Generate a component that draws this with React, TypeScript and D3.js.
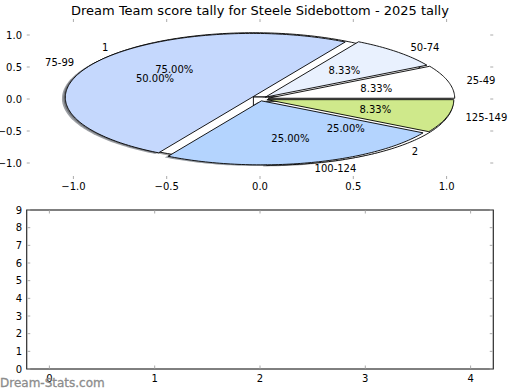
import React from 'react';
import * as d3 from 'd3';

const W = 520;
const H = 390;

const title = 'Dream Team score tally for Steele Sidebottom - 2025 tally';

// first pie: how many times each tally was scored (drawn underneath, white)
const tallyLabels = ['1', '2'];
const tallyValues = [9, 3];
const tallyColors = ['#ffffff', '#ffffff'];
const tallyExplode = [0.05, 0.05];

// second pie: score ranges
const rangeLabels = ['25-49', '50-74', '75-99', '100-124', '125-149'];
const rangeValues = [1, 1, 6, 3, 1];
const rangeColors = ['#ffffff', '#e9f1fe', '#c5d8fd', '#b4d4fe', '#cfe98b'];
const rangeExplode = [0.045, 0.04, 0.05, 0.03, 0.04];

const pieXTicks = [-1, -0.5, 0, 0.5, 1];
const pieYTicks = [-1, -0.5, 0, 0.5, 1];
const barXTicks = [0, 1, 2, 3, 4];
const barYTicks = [0, 1, 2, 3, 4, 5, 6, 7, 8, 9];

const FONT = 'DejaVu Sans, sans-serif';
const TICK = '#aaaaaa';

// axes boxes
const pieBox = { left: 26.75, right: 493.25, top: 19, bottom: 179 };
const barBox = { left: 26.75, right: 493.25, top: 210, bottom: 369 };

const px = d3.scaleLinear().domain([-1.25, 1.25]).range([pieBox.left, pieBox.right]);
const py = d3.scaleLinear().domain([-1.25, 1.25]).range([pieBox.bottom, pieBox.top]);
const bx = d3.scaleLinear().domain([-0.215, 4.215]).range([barBox.left, barBox.right]);
const by = d3.scaleLinear().domain([0, 9]).range([barBox.bottom, barBox.top]);

const line = d3.line<[number, number]>()
  .x(d => px(d[0]))
  .y(d => py(d[1]));

function wedge(cx: number, cy: number, a0: number, a1: number) {
  const n = Math.max(8, Math.ceil((a1 - a0) / 0.02));
  const pts: [number, number][] = [[cx, cy]];
  d3.range(n + 1).forEach(i => {
    const t = a0 + (a1 - a0) * i / n;
    pts.push([cx + Math.cos(t), cy + Math.sin(t)]);
  });
  return line(pts) + 'Z';
}

function buildPie(labels: string[], values: number[], colors: string[], explode: number[]) {
  const arcs = d3.pie<number>().sort(null).startAngle(0).endAngle(2 * Math.PI)(values);
  const total = d3.sum(values);
  return arcs.map((a, i) => {
    const mid = (a.startAngle + a.endAngle) / 2;
    const ox = explode[i] * Math.cos(mid);
    const oy = explode[i] * Math.sin(mid);
    const lx = ox + 1.1 * Math.cos(mid);
    const ly = oy + 1.1 * Math.sin(mid);
    return {
      label: labels[i],
      color: colors[i],
      pct: (100 * values[i] / total).toFixed(2) + '%',
      d: wedge(ox, oy, a.startAngle, a.endAngle),
      shadow: wedge(ox - 0.018, oy - 0.018, a.startAngle, a.endAngle),
      lx, ly,
      tx: ox + 0.6 * Math.cos(mid),
      ty: oy + 0.6 * Math.sin(mid),
    };
  });
}

function shade(c: string) {
  const r = d3.rgb(c);
  return d3.rgb(r.r * 0.3, r.g * 0.3, r.b * 0.3).formatHex();
}

export default function App() {
  const pie1 = buildPie(tallyLabels, tallyValues, tallyColors, tallyExplode);
  const pie2 = buildPie(rangeLabels, rangeValues, rangeColors, rangeExplode);
  const all = [...pie1, ...pie2];

  return (
    <svg width={W} height={H} style={{ position: 'absolute', left: 0, top: 0, background: '#fff' }}
      fontFamily={FONT}>
      <rect width={W} height={H} fill="#fff" />
      <text x={W / 2} y={14.5} textAnchor="middle" fontSize={13} fill="#000">{title}</text>

      {/* pie axes ticks (no frame) */}
      {pieXTicks.map(t => (
        <g key={'px' + t}>
          <line x1={px(t)} x2={px(t)} y1={pieBox.bottom} y2={pieBox.bottom - 3} stroke={TICK} />
          <line x1={px(t)} x2={px(t)} y1={pieBox.top} y2={pieBox.top + 3} stroke={TICK} />
          <text x={px(t)} y={190} textAnchor="middle" fontSize={10}>
            {t < 0 ? '\u2212' + Math.abs(t).toFixed(1) : t.toFixed(1)}
          </text>
        </g>
      ))}
      {pieYTicks.map(t => (
        <g key={'py' + t}>
          <line x1={pieBox.left} x2={pieBox.left + 3} y1={py(t)} y2={py(t)} stroke={TICK} />
          <line x1={pieBox.right} x2={pieBox.right - 3} y1={py(t)} y2={py(t)} stroke={TICK} />
          <text x={22} y={py(t)} dy="0.36em" textAnchor="end" fontSize={10}>
            {t < 0 ? '\u2212' + Math.abs(t).toFixed(1) : t.toFixed(1)}
          </text>
        </g>
      ))}

      {all.map((w, i) => (
        <path key={'s' + i} d={w.shadow} fill={shade(w.color)} fillOpacity={0.5} stroke="none" />
      ))}
      {all.map((w, i) => (
        <path key={'w' + i} d={w.d} fill={w.color} stroke="#000" strokeWidth={0.9} strokeLinejoin="round" />
      ))}
      {all.map((w, i) => (
        <g key={'t' + i} fontSize={10}>
          <text x={px(w.lx)} y={py(w.ly)} dy="0.36em" textAnchor={w.lx > 0 ? 'start' : 'end'}>{w.label}</text>
          <text x={px(w.tx)} y={py(w.ty)} dy="0.36em" textAnchor="middle">{w.pct}</text>
        </g>
      ))}

      {/* empty lower axes */}
      <rect x={barBox.left} y={barBox.top} width={barBox.right - barBox.left}
        height={barBox.bottom - barBox.top} fill="none" stroke="#000" strokeWidth={1} />
      {barXTicks.map(t => (
        <g key={'bx' + t}>
          <line x1={bx(t)} x2={bx(t)} y1={barBox.bottom - 0.5} y2={barBox.bottom - 3.5} stroke={TICK} />
          <line x1={bx(t)} x2={bx(t)} y1={barBox.top + 0.5} y2={barBox.top + 3.5} stroke={TICK} />
          <text x={bx(t)} y={382} textAnchor="middle" fontSize={10}>{t}</text>
        </g>
      ))}
      {barYTicks.map(t => (
        <g key={'by' + t}>
          <line x1={barBox.left + 0.5} x2={barBox.left + 3.5} y1={by(t)} y2={by(t)} stroke={TICK} />
          <line x1={barBox.right - 0.5} x2={barBox.right - 3.5} y1={by(t)} y2={by(t)} stroke={TICK} />
          <text x={22} y={by(t)} dy="0.36em" textAnchor="end" fontSize={10}>{t}</text>
        </g>
      ))}

      <text x={0} y={387} fontSize={12} fill="#8c8c8c" stroke="#8c8c8c" strokeWidth={0.3}>Dream-Stats.com</text>
    </svg>
  );
}
